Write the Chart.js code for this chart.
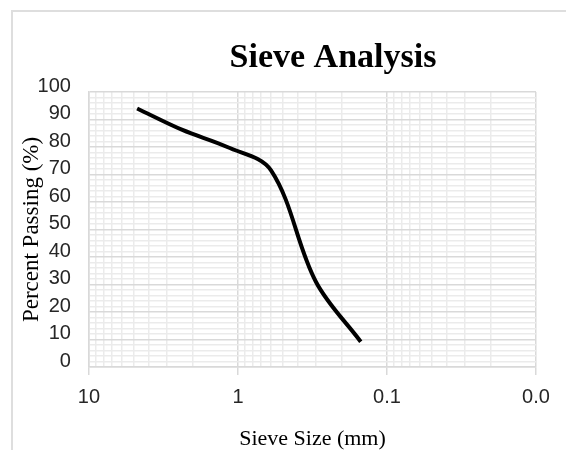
<!DOCTYPE html>
<html>
<head>
<meta charset="utf-8">
<script src="https://cdn.jsdelivr.net/npm/chart.js@4.4.1/dist/chart.umd.min.js"></script>
<style>
    html, body { margin: 0; padding: 0; overflow: hidden; background: #fff; }
    #frame { position: absolute; left: 11px; top: 10px; width: 800px; height: 600px; border: 2px solid #dedede; }
    #wrap { position: absolute; left: 0; top: 0; }
</style>
</head>
<body>
<div id="frame"></div>
<div id="wrap"><canvas id="sieveChart" width="566" height="450"></canvas></div>
<script>
// Sieve analysis data
const sieveSizes = [4.75, 2.36, 1.18, 0.6, 0.3, 0.15];     // mm
const percentPassing = [94, 86.2, 80, 71.5, 31, 9.2];       // %

// Axis tick labels (only the decades are labelled)
const xTickValues = [10, 1, 0.1, 0.01];
const xTickLabels = ['10', '1', '0.1', '0.0'];
const yTickValues = [0, 10, 20, 30, 40, 50, 60, 70, 80, 90, 100];

const chartTitle = 'Sieve Analysis';

const MAJOR_GRID = '#d9d9d9';
const MINOR_GRID = '#ebebeb';

function isDecade(v) {
    return xTickValues.some(t => Math.abs(t - v) / t < 1e-6);
}

// Title sits off-centre in the original (centred on the whole Excel chart box)
const titlePlugin = {
    id: 'offsetTitle',
    afterDraw(chart) {
        const ctx = chart.ctx;
        ctx.save();
        ctx.fillStyle = '#000';
        ctx.font = 'bold 34px "Liberation Serif"';
        ctx.textAlign = 'center';
        ctx.textBaseline = 'alphabetic';
        ctx.fillText(chartTitle, 333, 67);
        ctx.restore();
    }
};

new Chart(document.getElementById('sieveChart'), {
    type: 'line',
    data: {
        datasets: [{
            label: 'Percent Passing',
            data: sieveSizes.map((s, i) => ({ x: s, y: percentPassing[i] })),
            borderColor: '#000',
            borderWidth: 4,
            pointRadius: 0,
            fill: false,
            tension: 0.35
        }]
    },
    plugins: [titlePlugin],
    options: {
        responsive: false,
        animation: false,
        devicePixelRatio: 1,
        layout: { padding: { left: 0, right: 30, top: 92, bottom: 0 } },
        plugins: {
            legend: { display: false },
            tooltip: { enabled: false },
            title: { display: false }
        },
        scales: {
            x: {
                type: 'logarithmic',
                reverse: true,
                min: 0.01,
                max: 10,
                afterBuildTicks: scale => {
                    // keep only 1..9 x 10^n (drop the 1.5-type ticks)
                    scale.ticks = scale.ticks.filter(t => {
                        const m = t.value / Math.pow(10, Math.floor(Math.log10(t.value) + 1e-9));
                        return Math.abs(m - Math.round(m)) < 1e-6;
                    });
                },
                ticks: {
                    autoSkip: false,
                    maxRotation: 0,
                    padding: 10.5,
                    color: '#262626',
                    font: { family: 'Liberation Sans', size: 20 },
                    callback: value => {
                        const i = xTickValues.findIndex(t => Math.abs(t - value) / t < 1e-6);
                        return i >= 0 ? xTickLabels[i] : '';
                    }
                },
                grid: {
                    color: ctx => (ctx.tick && isDecade(ctx.tick.value)) ? MAJOR_GRID : MINOR_GRID,
                    lineWidth: 1.5,
                    tickColor: ctx => (ctx.tick && isDecade(ctx.tick.value)) ? MAJOR_GRID : 'rgba(0,0,0,0)',
                    tickLength: 8
                },
                border: { color: MAJOR_GRID, width: 1.5 },
                title: {
                    display: true,
                    text: 'Sieve Size (mm)',
                    color: '#000',
                    font: { family: 'Liberation Serif', size: 22 },
                    padding: { top: 5.8, bottom: -2.2 }
                }
            },
            y: {
                min: 0,
                max: 100,
                ticks: {
                    stepSize: 2,
                    autoSkip: false,
                    padding: 18,
                    labelOffset: -6,
                    color: '#262626',
                    font: { family: 'Liberation Sans', size: 20 },
                    callback: value => yTickValues.includes(value) ? String(value) : ''
                },
                grid: {
                    color: ctx => (ctx.tick && ctx.tick.value % 10 === 0) ? MAJOR_GRID : MINOR_GRID,
                    lineWidth: 1.5,
                    drawTicks: false
                },
                border: { color: MAJOR_GRID, width: 1.5 },
                title: {
                    display: true,
                    text: 'Percent Passing (%)',
                    color: '#000',
                    font: { family: 'Liberation Serif', size: 23 },
                    padding: { top: 18, bottom: -26 }
                }
            }
        }
    }
});
</script>
</body>
</html>
